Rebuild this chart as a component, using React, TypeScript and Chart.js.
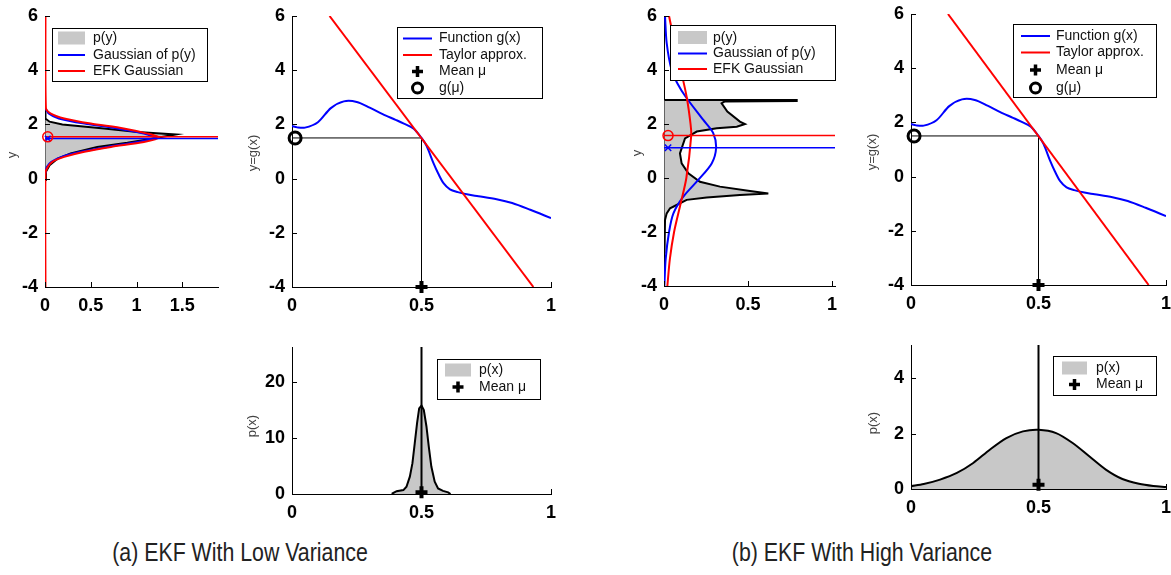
import React, { useEffect, useRef } from 'react';
import { Chart, registerables } from 'chart.js';

Chart.register(...registerables);

// ---------------- data ----------------
// g(x) function (same in both halves)
const gX = [0, 0.02, 0.05, 0.1, 0.15, 0.2, 0.25, 0.3, 0.35, 0.4, 0.43, 0.47, 0.5, 0.52, 0.545, 0.565, 0.585, 0.61, 0.64, 0.68, 0.72, 0.79, 0.85, 0.92, 1.0];
const gY = [1.94, 1.89, 1.88, 2.08, 2.6, 2.85, 2.83, 2.62, 2.38, 2.17, 2.04, 1.84, 1.5, 1.2, 0.6, 0.18, -0.17, -0.4, -0.5, -0.59, -0.65, -0.76, -0.9, -1.15, -1.46];
// Taylor approximation line end points
const taylorX = [0.145, 0.932];
const taylorY = [6, -4];
const muX = 0.5;
const gMu = 1.5;

// tick labels
const gyTicks = [-4, -2, 0, 2, 4, 6];
const unitTicks = [0, 0.5, 1];
const pyLowTicks = [0, 0.5, 1, 1.5];
const pxLowTicks = [0, 10, 20];
const pxHighTicks = [0, 2, 4];

// (a) low variance: p(y)
const pyLowDens = [0.005, 0.01, 0.05, 0.14, 0.28, 0.57, 0.9, 1.12, 1.43, 1.01, 0.645, 0.19, 0.05, 0.01, 0.005];
const pyLowY = [-0.05, 0.25, 0.49, 0.74, 0.93, 1.17, 1.32, 1.44, 1.63, 1.72, 1.85, 2.0, 2.1, 2.2, 2.45];
const gaussLowDens = [0.005, 0.02, 0.07, 0.18, 0.39, 0.68, 1.01, 1.21, 1.08, 0.79, 0.43, 0.15, 0.04, 0.005];
const gaussLowY = [0.2, 0.43, 0.62, 0.8, 0.99, 1.17, 1.35, 1.5, 1.66, 1.85, 2.03, 2.22, 2.4, 2.6];
const ekfLowDens = [0.005, 0.005, 0.03, 0.08, 0.21, 0.43, 0.72, 1.08, 1.245, 1.12, 0.86, 0.5, 0.21, 0.064, 0.01, 0.005];
const ekfLowY = [-4, 0.2, 0.43, 0.62, 0.8, 0.99, 1.17, 1.35, 1.52, 1.66, 1.85, 2.03, 2.22, 2.4, 2.6, 6];
const gaussLowMean = 1.48;
const ekfLowMean = 1.54;
// (a) low variance: p(x)
const pxLowX = [0.388, 0.388, 0.404, 0.43, 0.442, 0.455, 0.465, 0.474, 0.483, 0.491, 0.5, 0.509, 0.519, 0.528, 0.538, 0.551, 0.564, 0.583, 0.603, 0.612];
const pxLowP = [0, 0.1, 0.5, 0.7, 1.3, 3.1, 5.5, 9.1, 12.7, 15.3, 15.8, 15.0, 12.1, 8.5, 4.9, 2.2, 1.0, 0.55, 0.3, 0];

// (b) high variance: p(y)
const pyHighDens = [0.003, 0.006, 0.016, 0.036, 0.075, 0.135, 0.254, 0.452, 0.621, 0.512, 0.333, 0.214, 0.145, 0.105, 0.095, 0.125, 0.195, 0.314, 0.433, 0.482, 0.452, 0.377, 0.343, 0.36, 0.79, 0.79, 0.003];
const pyHighY = [-2.8, -1.56, -1.31, -1.12, -1.0, -0.81, -0.72, -0.63, -0.57, -0.48, -0.32, -0.14, 0.17, 0.54, 0.91, 1.47, 1.72, 1.84, 1.9, 2.0, 2.09, 2.46, 2.77, 2.83, 2.85, 2.89, 2.89];
const gaussHighDens = [0.002, 0.01, 0.03, 0.056, 0.115, 0.204, 0.284, 0.31, 0.293, 0.234, 0.13, 0.08, 0.045, 0.016, 0.006];
const gaussHighY = [-4, -3, -2, -1.31, -0.69, -0.07, 0.54, 1.1, 1.66, 2.15, 3.0, 3.5, 4, 5, 6];
const ekfHighDens = [0.02, 0.035, 0.06, 0.097, 0.133, 0.162, 0.158, 0.135, 0.1, 0.063, 0.03];
const ekfHighY = [-4, -3, -2, -1, 0, 1.56, 2, 3, 4, 5, 6];
const gaussHighMean = 1.12;
const ekfHighMean = 1.57;
// (b) high variance: p(x)
const pxHighX = [0, 0.05, 0.114, 0.18, 0.244, 0.309, 0.374, 0.439, 0.5, 0.569, 0.634, 0.699, 0.764, 0.829, 0.894, 0.95, 1.0];
const pxHighP = [0.1, 0.18, 0.34, 0.58, 0.94, 1.42, 1.84, 2.08, 2.14, 2.02, 1.66, 1.18, 0.7, 0.36, 0.19, 0.11, 0.07];

// ---------------- styling ----------------
const BLUE = '#0000ff';
const RED = '#ff0000';
const GRAY = '#c8c8c8';
const FONT = '"Liberation Sans", Arial, Helvetica, sans-serif';
const PADL = 50, PADT = 14, PADR = 8, PADB = 42;

const zip = (xs: number[], ys: number[]) => xs.map((x, i) => ({ x, y: ys[i] }));

const lineDs = (pts: any[], color: string, width: number, tension = 0) => ({
  data: pts, borderColor: color, borderWidth: width, pointRadius: 0, fill: false, tension,
});
const shapeDs = (pts: any[], color: string) => ({
  data: pts, borderColor: 'rgba(0,0,0,0)', borderWidth: 0, backgroundColor: color, fill: 'shape', pointRadius: 0, tension: 0,
});
const markerDs = (pt: any, style: string, color: string, radius: number, bw: number) => ({
  data: [pt], showLine: false, pointStyle: style, pointRadius: radius, pointBorderColor: color,
  pointBorderWidth: bw, pointBackgroundColor: 'rgba(0,0,0,0)', clip: false,
});

type Item = { kind: 'fill' | 'line' | 'plus' | 'circle'; color: string; label: string };
type LegendSpec = { x: number; y: number; w: number; h: number; rows: number[]; sx0: number; sx1: number; tx: number; items: Item[] };
type Panel = {
  key: string; ca: { l: number; t: number; r: number; b: number };
  xMin: number; xMax: number; yMin: number; yMax: number; xTicks: number[]; yTicks: number[];
  yLabel: string; yLabelX: number; yLabelY: number; legend: LegendSpec; datasets: any[];
};

const pyLegendItems: Item[] = [
  { kind: 'fill', color: GRAY, label: 'p(y)' },
  { kind: 'line', color: BLUE, label: 'Gaussian of p(y)' },
  { kind: 'line', color: RED, label: 'EFK Gaussian' },
];
const gLegendItems: Item[] = [
  { kind: 'line', color: BLUE, label: 'Function g(x)' },
  { kind: 'line', color: RED, label: 'Taylor approx.' },
  { kind: 'plus', color: '#000', label: 'Mean \u03bc' },
  { kind: 'circle', color: '#000', label: 'g(\u03bc)' },
];
const pxLegendItems: Item[] = [
  { kind: 'fill', color: GRAY, label: 'p(x)' },
  { kind: 'plus', color: '#000', label: 'Mean \u03bc' },
];

function gDatasets() {
  return [
    lineDs([{ x: 0, y: gMu }, { x: muX, y: gMu }], '#000', 1),
    lineDs([{ x: muX, y: gMu }, { x: muX, y: -4 }], '#000', 1),
    lineDs(zip(gX, gY), BLUE, 2, 0.3),
    lineDs(zip(taylorX, taylorY), RED, 2),
    markerDs({ x: muX, y: -4 }, 'cross', '#000', 6, 4),
    markerDs({ x: 0.012, y: gMu }, 'circle', '#000', 6, 3),
  ];
}

const panels: Panel[] = [
  {
    key: 'a1', ca: { l: 45, t: 16, r: 218, b: 287 }, xMin: 0, xMax: 1.89, yMin: -4, yMax: 6,
    xTicks: pyLowTicks, yTicks: gyTicks, yLabel: 'y', yLabelX: 12, yLabelY: 155,
    legend: { x: 52, y: 28, w: 155, h: 53, rows: [38.5, 55, 71], sx0: 58, sx1: 85, tx: 93, items: pyLegendItems },
    datasets: [
      shapeDs(zip(pyLowDens, pyLowY), GRAY),
      lineDs(zip(pyLowDens, pyLowY), '#000', 2),
      lineDs(zip(gaussLowDens, gaussLowY), BLUE, 2, 0.25),
      lineDs(zip(ekfLowDens, ekfLowY), RED, 2, 0.25),
      lineDs([{ x: 0, y: gaussLowMean }, { x: 1.89, y: gaussLowMean }], BLUE, 1.5),
      lineDs([{ x: 0, y: ekfLowMean }, { x: 1.89, y: ekfLowMean }], RED, 1.5),
      markerDs({ x: 0.03, y: gaussLowMean }, 'crossRot', BLUE, 4, 1.5),
      markerDs({ x: 0.03, y: ekfLowMean }, 'circle', RED, 5, 1.5),
    ],
  },
  {
    key: 'a2', ca: { l: 292, t: 16, r: 553, b: 287 }, xMin: 0, xMax: 1, yMin: -4, yMax: 6,
    xTicks: unitTicks, yTicks: gyTicks, yLabel: 'y=g(x)', yLabelX: 253, yLabelY: 153,
    legend: { x: 397, y: 27, w: 145, h: 71, rows: [38.5, 55, 71.5, 88], sx0: 403, sx1: 432, tx: 439, items: gLegendItems },
    datasets: gDatasets(),
  },
  {
    key: 'a3', ca: { l: 292, t: 347, r: 553, b: 494 }, xMin: 0, xMax: 1, yMin: 0, yMax: 26.25,
    xTicks: unitTicks, yTicks: pxLowTicks, yLabel: 'p(x)', yLabelX: 252, yLabelY: 426,
    legend: { x: 437, y: 359, w: 103, h: 40, rows: [370.5, 387], sx0: 445, sx1: 471, tx: 479, items: pxLegendItems },
    datasets: [
      { ...lineDs(zip(pxLowX, pxLowP), '#000', 2), fill: 'origin', backgroundColor: GRAY },
      lineDs([{ x: muX, y: 0 }, { x: muX, y: 26.25 }], '#000', 2),
      markerDs({ x: muX, y: 0.3 }, 'cross', '#000', 6, 4),
    ],
  },
  {
    key: 'b1', ca: { l: 664, t: 16, r: 835, b: 286 }, xMin: 0, xMax: 1.018, yMin: -4, yMax: 6,
    xTicks: unitTicks, yTicks: gyTicks, yLabel: 'y', yLabelX: 637, yLabelY: 153,
    legend: { x: 670, y: 25, w: 165, h: 55, rows: [38, 53.5, 69], sx0: 678, sx1: 707, tx: 713, items: pyLegendItems },
    datasets: [
      shapeDs(zip(pyHighDens, pyHighY), GRAY),
      lineDs(zip(pyHighDens, pyHighY), '#000', 2),
      lineDs(zip(gaussHighDens, gaussHighY), BLUE, 2, 0.3),
      lineDs(zip(ekfHighDens, ekfHighY), RED, 2, 0.3),
      lineDs([{ x: 0, y: gaussHighMean }, { x: 1.018, y: gaussHighMean }], BLUE, 1.5),
      lineDs([{ x: 0, y: ekfHighMean }, { x: 1.018, y: ekfHighMean }], RED, 1.5),
      markerDs({ x: 0.024, y: gaussHighMean }, 'crossRot', BLUE, 4.5, 1.5),
      markerDs({ x: 0.024, y: ekfHighMean }, 'circle', RED, 5, 1.5),
    ],
  },
  {
    key: 'b2', ca: { l: 911, t: 14, r: 1168, b: 285 }, xMin: 0, xMax: 1, yMin: -4, yMax: 6,
    xTicks: unitTicks, yTicks: gyTicks, yLabel: 'y=g(x)', yLabelX: 872, yLabelY: 152,
    legend: { x: 1013, y: 24, w: 143, h: 73, rows: [36, 52.5, 70, 88], sx0: 1021, sx1: 1050, tx: 1056, items: gLegendItems },
    datasets: gDatasets(),
  },
  {
    key: 'b3', ca: { l: 911, t: 345, r: 1168, b: 489 }, xMin: 0, xMax: 1, yMin: 0, yMax: 5.2,
    xTicks: unitTicks, yTicks: pxHighTicks, yLabel: 'p(x)', yLabelX: 873, yLabelY: 423,
    legend: { x: 1053, y: 356, w: 103, h: 39, rows: [368.5, 384.5], sx0: 1062, sx1: 1087, tx: 1096, items: pxLegendItems },
    datasets: [
      { ...lineDs(zip(pxHighX, pxHighP), '#000', 2, 0.3), fill: 'origin', backgroundColor: GRAY },
      lineDs([{ x: muX, y: 0 }, { x: muX, y: 5.2 }], '#000', 2),
      markerDs({ x: muX, y: 0.15 }, 'cross', '#000', 6, 4),
    ],
  },
];

// ---------------- plugins ----------------
const inTicks = {
  id: 'inTicks',
  afterDatasetsDraw(chart: any) {
    const { ctx, chartArea: a, scales } = chart;
    ctx.save();
    ctx.strokeStyle = '#000';
    ctx.lineWidth = 1;
    ctx.beginPath();
    for (const t of scales.x.ticks) {
      const px = Math.round(scales.x.getPixelForValue(t.value)) + 0.5;
      ctx.moveTo(px, a.bottom);
      ctx.lineTo(px, a.bottom - 5);
    }
    for (const t of scales.y.ticks) {
      const py = Math.round(scales.y.getPixelForValue(t.value)) + 0.5;
      ctx.moveTo(a.left, py);
      ctx.lineTo(a.left + 5, py);
    }
    ctx.stroke();
    ctx.restore();
  },
};

function makeOverlay(p: Panel, ox: number, oy: number) {
  return {
    id: 'overlay_' + p.key,
    afterDraw(chart: any) {
      const ctx = chart.ctx;
      ctx.save();
      // y label
      ctx.translate(p.yLabelX - ox, p.yLabelY - oy);
      ctx.rotate(-Math.PI / 2);
      ctx.fillStyle = '#444';
      ctx.font = '13px ' + FONT;
      ctx.textAlign = 'center';
      ctx.textBaseline = 'middle';
      ctx.fillText(p.yLabel, 0, 0);
      ctx.restore();

      const L = p.legend;
      const x = L.x - ox, y = L.y - oy;
      ctx.save();
      ctx.fillStyle = '#fff';
      ctx.fillRect(x, y, L.w, L.h);
      ctx.strokeStyle = '#000';
      ctx.lineWidth = 1;
      ctx.strokeRect(Math.round(x) + 0.5, Math.round(y) + 0.5, L.w, L.h);
      const s0 = L.sx0 - ox, s1 = L.sx1 - ox, cx = (s0 + s1) / 2, tx = L.tx - ox;
      L.items.forEach((it, i) => {
        const ry = L.rows[i] - oy;
        if (it.kind === 'fill') {
          ctx.fillStyle = it.color;
          ctx.fillRect(s0, ry - 7, s1 - s0, 13);
        } else if (it.kind === 'line') {
          ctx.strokeStyle = it.color;
          ctx.lineWidth = 2;
          ctx.beginPath();
          ctx.moveTo(s0, ry);
          ctx.lineTo(s1, ry);
          ctx.stroke();
        } else if (it.kind === 'plus') {
          ctx.strokeStyle = it.color;
          ctx.lineWidth = 3.5;
          ctx.beginPath();
          ctx.moveTo(cx - 5.5, ry);
          ctx.lineTo(cx + 5.5, ry);
          ctx.moveTo(cx, ry - 5.5);
          ctx.lineTo(cx, ry + 5.5);
          ctx.stroke();
        } else {
          ctx.strokeStyle = it.color;
          ctx.lineWidth = 3;
          ctx.beginPath();
          ctx.arc(cx, ry, 5, 0, Math.PI * 2);
          ctx.stroke();
        }
        ctx.fillStyle = '#111';
        ctx.font = '14px ' + FONT;
        ctx.textAlign = 'left';
        ctx.textBaseline = 'middle';
        ctx.fillText(it.label, tx, ry);
      });
      ctx.restore();
    },
  };
}

function axisCfg(min: number, max: number, ticks: number[], isX: boolean) {
  return {
    type: 'linear',
    position: isX ? 'bottom' : 'left',
    min,
    max,
    afterBuildTicks: (s: any) => {
      s.ticks = ticks.map((v) => ({ value: v }));
    },
    afterFit: (s: any) => {
      if (isX) {
        s.height = PADB;
        s.paddingLeft = 0;
        s.paddingRight = 0;
      } else {
        s.width = PADL;
        s.paddingTop = 0;
        s.paddingBottom = 0;
      }
    },
    grid: { display: true, drawOnChartArea: false, drawTicks: false },
    border: { display: true, color: '#000', width: 1 },
    ticks: {
      color: '#000',
      font: { family: FONT, size: 18, weight: 'bold' },
      padding: isX ? 8 : 7,
      maxRotation: 0,
      minRotation: 0,
      autoSkip: false,
      callback: (v: any) => String(v),
    },
  };
}

function PanelChart({ p }: { p: Panel }) {
  const ref = useRef<HTMLCanvasElement>(null);
  const w = p.ca.r - p.ca.l + PADL + PADR;
  const h = p.ca.b - p.ca.t + PADT + PADB;
  const left = p.ca.l - PADL;
  const top = p.ca.t - PADT;
  useEffect(() => {
    const n = p.datasets.length;
    const chart = new Chart(ref.current as HTMLCanvasElement, {
      type: 'line',
      data: { datasets: p.datasets.map((d, i) => ({ ...d, order: n - i })) },
      options: {
        responsive: false,
        animation: false,
        events: [],
        layout: { padding: { left: 0, top: PADT, right: PADR, bottom: 0 } },
        plugins: { legend: { display: false }, tooltip: { enabled: false } },
        elements: { point: { radius: 0 } },
        scales: {
          x: axisCfg(p.xMin, p.xMax, p.xTicks, true),
          y: axisCfg(p.yMin, p.yMax, p.yTicks, false),
        },
      } as any,
      plugins: [inTicks, makeOverlay(p, left, top)],
    });
    return () => chart.destroy();
  }, []);
  return (
    <canvas
      ref={ref}
      width={w}
      height={h}
      style={{ position: 'absolute', left, top, width: w, height: h }}
    />
  );
}

const captionStyle: React.CSSProperties = {
  position: 'absolute',
  top: 537,
  width: 400,
  textAlign: 'center',
  fontFamily: FONT,
  fontSize: 26,
  lineHeight: '30px',
  color: '#222',
  transform: 'scaleX(0.82)',
  whiteSpace: 'nowrap',
};

export default function App() {
  return (
    <div style={{ position: 'fixed', left: 0, top: 0, width: 1171, height: 575, overflow: 'hidden', background: '#fff' }}>
      {panels.map((p) => (
        <PanelChart key={p.key} p={p} />
      ))}
      <div style={{ ...captionStyle, left: 240 - 200 }}>(a) EKF With Low Variance</div>
      <div style={{ ...captionStyle, left: 862 - 200 }}>(b) EKF With High Variance</div>
    </div>
  );
}
